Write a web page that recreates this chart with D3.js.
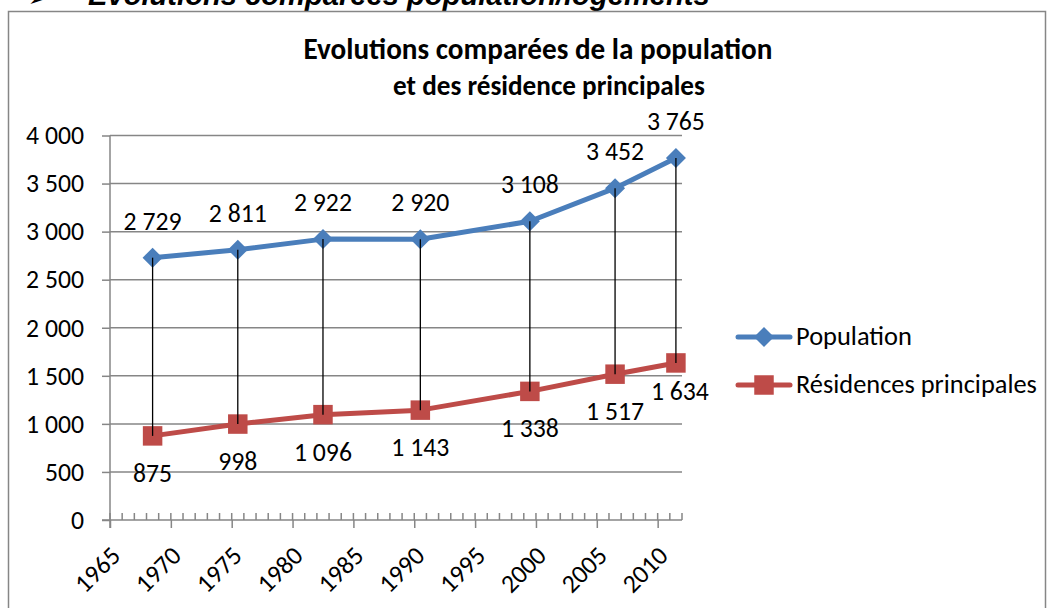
<!DOCTYPE html>
<html>
<head>
<meta charset="utf-8">
<script src="https://cdn.jsdelivr.net/npm/d3@7"></script>
<style>
  body { margin: 0; background: #fff; }
  svg { display: block; }
</style>
</head>
<body>
<svg id="chart" width="1052" height="608"></svg>
<script>
// census years and values
var years = [1968, 1975, 1982, 1990, 1999, 2006, 2011];
var population = [2729, 2811, 2922, 2920, 3108, 3452, 3765];
var residences = [875, 998, 1096, 1143, 1338, 1517, 1634];
var seriesNames = ["Population", "Résidences principales"];
var yTicks = [0, 500, 1000, 1500, 2000, 2500, 3000, 3500, 4000];
var xTicks = [1965, 1970, 1975, 1980, 1985, 1990, 1995, 2000, 2005, 2010];
var titleLines = ["Evolutions comparées de la population", "et des résidence principales"];
var header = "Evolutions comparées population/logements";

var FONT = "Carlito, Calibri, Lato, sans-serif";
var BLUE = "#4A7EBB", RED = "#BE4B48", GRID = "#868686";

var svg = d3.select("#chart");
var fr = d3.formatLocale({decimal: ",", thousands: " ", grouping: [3], currency: ["", " €"]});
var fmt = fr.format(",d");

// make a text as wide as it is in the picture
function fit(t, w) {
    var cur = t.node().getComputedTextLength();
    var fs = parseFloat(t.attr("font-size"));
    t.attr("font-size", fs * w / cur);
}

// header line cut at the top of the page
svg.append("text").attr("x", 28).attr("y", 6)
    .attr("font-family", "DejaVu Sans").attr("font-size", 22).attr("font-weight", "bold")
    .text("➢");
var head = svg.append("text").attr("x", 88).attr("y", 5)
    .attr("font-family", "Liberation Sans, Arial").attr("font-size", 26)
    .attr("font-weight", "bold").attr("font-style", "italic")
    .text(header);
fit(head, 622);

// frame of the chart
svg.append("rect").attr("x", 8.5).attr("y", 11.5).attr("width", 1037).attr("height", 620)
    .attr("fill", "#fff").attr("stroke", GRID).attr("stroke-width", 1.5);

// title
titleLines.forEach(function(l, i){
    var t = svg.append("text").attr("x", i == 0 ? 538 : 549).attr("y", 59 + i*36)
        .attr("text-anchor", "middle").attr("font-family", FONT)
        .attr("font-weight", "bold").attr("font-size", 23).text(l);
    fit(t, i == 0 ? 469 : 312);
});

// number font size (from the width of "2 729")
var probe = svg.append("text").attr("font-family", FONT).attr("font-size", 24).text("2 729");
fit(probe, 58);
var NUM = parseFloat(probe.attr("font-size"));
probe.remove();

// points sit in the middle of their year on Excel's date axis
var x = d3.scaleLinear().domain([1965, 2012]).range([110, 682]);
var y = d3.scaleLinear().domain([0, 4000]).range([520, 135.5]);
var px = function(i){ return x(years[i] + 0.5); };

// gridlines
svg.append("g").selectAll("line").data(yTicks.slice(1)).enter().append("line")
    .attr("x1", x(1965)).attr("x2", x(2012))
    .attr("y1", function(d){ return y(d); }).attr("y2", function(d){ return y(d); })
    .attr("stroke", GRID).attr("stroke-width", 1.5);

// y axis
var yAxis = svg.append("g").attr("transform", "translate(" + x(1965) + ",0)")
    .call(d3.axisLeft(y).tickValues(yTicks).tickSize(8).tickPadding(18).tickFormat(fmt));
yAxis.select(".domain").attr("stroke", GRID).attr("stroke-width", 1.5)
    .attr("d", "M0," + y(4000) + "V" + (y(0) + 8));
yAxis.selectAll(".tick line").attr("stroke", GRID).attr("stroke-width", 1.5);
yAxis.selectAll("text").attr("font-family", FONT).attr("font-size", NUM).attr("fill", "#000");

// x axis: major ticks down, yearly minor ticks up
var minor = d3.range(1965, 2013);
svg.append("g").selectAll("line").data(minor).enter().append("line")
    .attr("x1", function(d){ return x(d); }).attr("x2", function(d){ return x(d); })
    .attr("y1", y(0) - 7).attr("y2", y(0))
    .attr("stroke", GRID).attr("stroke-width", 1.5);
var xAxis = svg.append("g").attr("transform", "translate(0," + y(0) + ")")
    .call(d3.axisBottom(x).tickValues(xTicks).tickSize(8).tickFormat(d3.format("d")));
xAxis.select(".domain").attr("stroke", GRID).attr("stroke-width", 1.5)
    .attr("d", "M" + (x(1965) - 8) + ",0H" + x(2012));
xAxis.selectAll(".tick line").attr("stroke", GRID).attr("stroke-width", 1.5);
xAxis.selectAll("text")
    .attr("font-family", FONT).attr("font-size", NUM).attr("fill", "#000")
    .attr("text-anchor", "end").attr("dy", "0.35em").attr("y", 0)
    .attr("transform", "translate(5,31) rotate(-45)");

// lines
var line = function(vals){
    return d3.line().x(function(d, i){ return px(i); }).y(function(d){ return y(d); })(vals);
};
svg.append("path").attr("d", line(population)).attr("fill", "none")
    .attr("stroke", BLUE).attr("stroke-width", 5).attr("stroke-linejoin", "round");
svg.append("path").attr("d", line(residences)).attr("fill", "none")
    .attr("stroke", RED).attr("stroke-width", 5).attr("stroke-linejoin", "round");

var diamond = d3.symbol().type(d3.symbolSquare).size(200);
var square = d3.symbol().type(d3.symbolSquare).size(380);

svg.append("g").selectAll("path").data(population).enter().append("path")
    .attr("d", diamond)
    .attr("transform", function(d, i){ return "translate(" + px(i) + "," + y(d) + ") rotate(45)"; })
    .attr("fill", BLUE);
svg.append("g").selectAll("path").data(residences).enter().append("path")
    .attr("d", square)
    .attr("transform", function(d, i){ return "translate(" + px(i) + "," + y(d) + ")"; })
    .attr("fill", RED);

// drop lines
svg.append("g").selectAll("line").data(years).enter().append("line")
    .attr("x1", function(d, i){ return px(i); }).attr("x2", function(d, i){ return px(i); })
    .attr("y1", function(d, i){ return y(population[i]); })
    .attr("y2", function(d, i){ return y(residences[i]); })
    .attr("stroke", "#000").attr("stroke-width", 1.3);

// data labels
svg.append("g").selectAll("text").data(population).enter().append("text")
    .attr("x", function(d, i){ return px(i); }).attr("y", function(d){ return y(d) - 28; })
    .attr("text-anchor", "middle").attr("font-family", FONT).attr("font-size", NUM)
    .text(fmt);
var last = residences.length - 1;
svg.append("g").selectAll("text").data(residences).enter().append("text")
    .attr("x", function(d, i){ return px(i) + (i == last ? 4 : 0); })
    .attr("y", function(d, i){ return y(d) + (i == last ? 37 : 46); })
    .attr("text-anchor", "middle").attr("font-family", FONT).attr("font-size", NUM)
    .text(fmt);

// legend
var lg = svg.append("g");
[BLUE, RED].forEach(function(c, i){
    var ly = 337 + i*48;
    lg.append("line").attr("x1", 738).attr("x2", 790).attr("y1", ly).attr("y2", ly)
        .attr("stroke", c).attr("stroke-width", 5).attr("stroke-linecap", "round");
    lg.append("path").attr("d", i == 0 ? diamond : square)
        .attr("transform", "translate(764," + ly + ")" + (i == 0 ? " rotate(45)" : ""))
        .attr("fill", c);
    var t = lg.append("text").attr("x", 796).attr("y", ly + 8)
        .attr("font-family", FONT).attr("font-size", 24).text(seriesNames[i]);
    fit(t, i == 0 ? 116 : 241);
});
</script>
</body>
</html>
